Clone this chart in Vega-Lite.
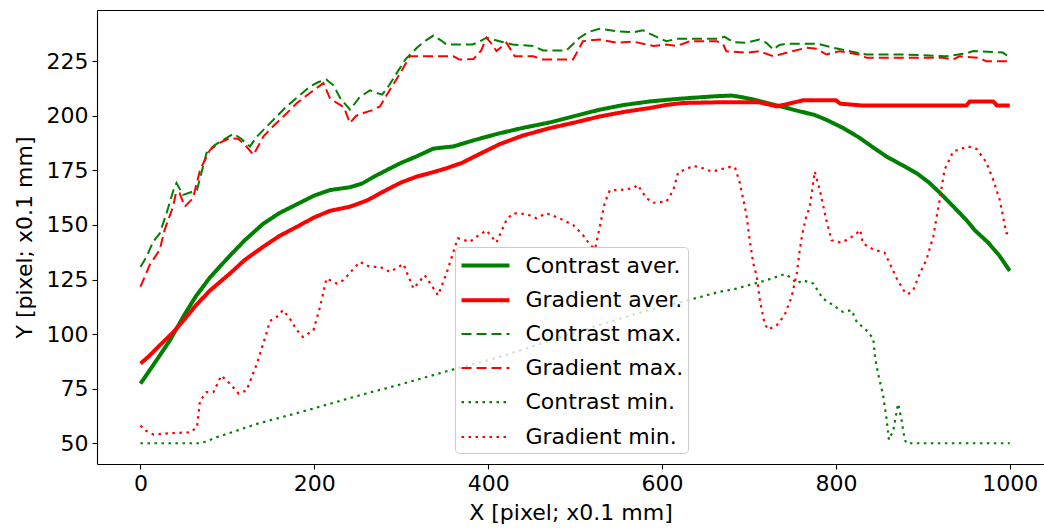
{
  "$schema": "https://vega.github.io/schema/vega-lite/v6.json",
  "width": 947,
  "height": 454,
  "autosize": "none",
  "padding": {"left": 97, "top": 10, "right": 0, "bottom": 64},
  "config": {
    "view": {"stroke": null},
    "font": "DejaVu Sans",
    "axis": {"grid": false, "domainColor": "#000", "tickColor": "#000", "labelColor": "#000", "titleColor": "#000", "labelFont": "DejaVu Sans", "titleFont": "DejaVu Sans", "labelFontSize": 22, "titleFontSize": 22, "titleFontWeight": "normal", "tickSize": 5, "labelPadding": 4, "domainWidth": 1.1, "tickWidth": 1.1},
    "legend": {"orient": "none", "legendX": 358, "legendY": 237, "title": null, "fillColor": "rgba(255,255,255,0.8)", "strokeColor": "#cccccc", "cornerRadius": 4, "padding": 4.5, "labelFont": "DejaVu Sans", "labelFontSize": 22, "labelColor": "#000", "symbolType": "M-1,0H3", "symbolSize": 576, "labelOffset": 38, "rowPadding": 9.8}
  },
  "data": {"values": [
    {"s":"Contrast aver.","x":0,"y":77.3},{"s":"Contrast aver.","x":15,"y":86},{"s":"Contrast aver.","x":34,"y":97.2},{"s":"Contrast aver.","x":50,"y":108.5},{"s":"Contrast aver.","x":64,"y":117.5},{"s":"Contrast aver.","x":80,"y":126},{"s":"Contrast aver.","x":103,"y":136},{"s":"Contrast aver.","x":120,"y":143},{"s":"Contrast aver.","x":141,"y":150.5},{"s":"Contrast aver.","x":160,"y":155.5},{"s":"Contrast aver.","x":180,"y":159.5},{"s":"Contrast aver.","x":200,"y":163.5},{"s":"Contrast aver.","x":218,"y":166},{"s":"Contrast aver.","x":241,"y":167.3},{"s":"Contrast aver.","x":255,"y":169},{"s":"Contrast aver.","x":268,"y":172},{"s":"Contrast aver.","x":285,"y":175.5},{"s":"Contrast aver.","x":300,"y":178.5},{"s":"Contrast aver.","x":318,"y":181.5},{"s":"Contrast aver.","x":337,"y":185},{"s":"Contrast aver.","x":360,"y":186},{"s":"Contrast aver.","x":385,"y":189},{"s":"Contrast aver.","x":413,"y":192},{"s":"Contrast aver.","x":440,"y":194.5},{"s":"Contrast aver.","x":471,"y":197},{"s":"Contrast aver.","x":500,"y":200},{"s":"Contrast aver.","x":528,"y":202.8},{"s":"Contrast aver.","x":556,"y":205},{"s":"Contrast aver.","x":586,"y":206.6},{"s":"Contrast aver.","x":610,"y":207.5},{"s":"Contrast aver.","x":632,"y":208.2},{"s":"Contrast aver.","x":662,"y":209},{"s":"Contrast aver.","x":680,"y":209.3},{"s":"Contrast aver.","x":690,"y":208.7},{"s":"Contrast aver.","x":705,"y":207.5},{"s":"Contrast aver.","x":720,"y":206},{"s":"Contrast aver.","x":740,"y":204},{"s":"Contrast aver.","x":759,"y":202},{"s":"Contrast aver.","x":775,"y":200.5},{"s":"Contrast aver.","x":789,"y":198.2},{"s":"Contrast aver.","x":808,"y":194.5},{"s":"Contrast aver.","x":827,"y":190},{"s":"Contrast aver.","x":843,"y":185.5},{"s":"Contrast aver.","x":858,"y":181.4},{"s":"Contrast aver.","x":876,"y":177.5},{"s":"Contrast aver.","x":893,"y":173.7},{"s":"Contrast aver.","x":907,"y":169.5},{"s":"Contrast aver.","x":920,"y":164.6},{"s":"Contrast aver.","x":935,"y":158.5},{"s":"Contrast aver.","x":950,"y":152.3},{"s":"Contrast aver.","x":960,"y":147.5},{"s":"Contrast aver.","x":975,"y":142},{"s":"Contrast aver.","x":988,"y":136},{"s":"Contrast aver.","x":1000,"y":129},

    {"s":"Gradient aver.","x":0,"y":86.5},{"s":"Gradient aver.","x":10,"y":90},{"s":"Gradient aver.","x":20,"y":94},{"s":"Gradient aver.","x":37.5,"y":100.8},{"s":"Gradient aver.","x":50,"y":106.5},{"s":"Gradient aver.","x":64,"y":113.3},{"s":"Gradient aver.","x":80,"y":120},{"s":"Gradient aver.","x":103,"y":127.8},{"s":"Gradient aver.","x":120,"y":134},{"s":"Gradient aver.","x":141,"y":140},{"s":"Gradient aver.","x":160,"y":145},{"s":"Gradient aver.","x":180,"y":149.2},{"s":"Gradient aver.","x":200,"y":153.5},{"s":"Gradient aver.","x":218,"y":156.5},{"s":"Gradient aver.","x":240,"y":158.3},{"s":"Gradient aver.","x":249,"y":159.5},{"s":"Gradient aver.","x":262,"y":161.5},{"s":"Gradient aver.","x":276,"y":164.6},{"s":"Gradient aver.","x":290,"y":167.5},{"s":"Gradient aver.","x":300,"y":169.5},{"s":"Gradient aver.","x":318,"y":172.2},{"s":"Gradient aver.","x":335,"y":174},{"s":"Gradient aver.","x":352,"y":176},{"s":"Gradient aver.","x":370,"y":178.5},{"s":"Gradient aver.","x":390,"y":182.5},{"s":"Gradient aver.","x":413,"y":187},{"s":"Gradient aver.","x":440,"y":191},{"s":"Gradient aver.","x":471,"y":194.4},{"s":"Gradient aver.","x":500,"y":197},{"s":"Gradient aver.","x":528,"y":199.7},{"s":"Gradient aver.","x":556,"y":201.8},{"s":"Gradient aver.","x":586,"y":203.6},{"s":"Gradient aver.","x":605,"y":205},{"s":"Gradient aver.","x":624,"y":205.9},{"s":"Gradient aver.","x":662,"y":206.2},{"s":"Gradient aver.","x":712,"y":206.2},{"s":"Gradient aver.","x":725,"y":205},{"s":"Gradient aver.","x":732,"y":204.3},{"s":"Gradient aver.","x":745,"y":205.5},{"s":"Gradient aver.","x":762,"y":207.1},{"s":"Gradient aver.","x":800,"y":207.1},{"s":"Gradient aver.","x":805,"y":205.6},{"s":"Gradient aver.","x":831,"y":204.7},{"s":"Gradient aver.","x":950,"y":204.7},{"s":"Gradient aver.","x":954,"y":206.6},{"s":"Gradient aver.","x":981,"y":206.6},{"s":"Gradient aver.","x":985,"y":204.8},{"s":"Gradient aver.","x":1000,"y":204.8},

    {"s":"Contrast max.","x":0,"y":130.8},{"s":"Contrast max.","x":7,"y":135.4},{"s":"Contrast max.","x":14.5,"y":142.3},{"s":"Contrast max.","x":22,"y":146},{"s":"Contrast max.","x":30,"y":155.4},{"s":"Contrast max.","x":38,"y":166},{"s":"Contrast max.","x":41.4,"y":169.2},{"s":"Contrast max.","x":49,"y":163.8},{"s":"Contrast max.","x":58,"y":165},{"s":"Contrast max.","x":65,"y":166},{"s":"Contrast max.","x":76,"y":183},{"s":"Contrast max.","x":85,"y":186.5},{"s":"Contrast max.","x":95.5,"y":189},{"s":"Contrast max.","x":107,"y":191.8},{"s":"Contrast max.","x":116,"y":189.5},{"s":"Contrast max.","x":126,"y":186},{"s":"Contrast max.","x":134,"y":190.5},{"s":"Contrast max.","x":141.5,"y":193.6},{"s":"Contrast max.","x":155,"y":199},{"s":"Contrast max.","x":168,"y":204.3},{"s":"Contrast max.","x":182,"y":209},{"s":"Contrast max.","x":195,"y":213.5},{"s":"Contrast max.","x":205,"y":215.5},{"s":"Contrast max.","x":214,"y":216.6},{"s":"Contrast max.","x":222,"y":214},{"s":"Contrast max.","x":230,"y":208},{"s":"Contrast max.","x":241,"y":202.8},{"s":"Contrast max.","x":252,"y":208.5},{"s":"Contrast max.","x":264,"y":211.7},{"s":"Contrast max.","x":272,"y":210.5},{"s":"Contrast max.","x":278,"y":209.7},{"s":"Contrast max.","x":286,"y":214},{"s":"Contrast max.","x":295,"y":219.7},{"s":"Contrast max.","x":305,"y":226},{"s":"Contrast max.","x":318,"y":231.2},{"s":"Contrast max.","x":328,"y":234.5},{"s":"Contrast max.","x":337,"y":236.8},{"s":"Contrast max.","x":346,"y":234.5},{"s":"Contrast max.","x":352,"y":232.7},{"s":"Contrast max.","x":382,"y":232.7},{"s":"Contrast max.","x":390,"y":234},{"s":"Contrast max.","x":398,"y":235.8},{"s":"Contrast max.","x":413,"y":234.2},{"s":"Contrast max.","x":428,"y":232.7},{"s":"Contrast max.","x":452,"y":232},{"s":"Contrast max.","x":463,"y":230},{"s":"Contrast max.","x":490,"y":230},{"s":"Contrast max.","x":498,"y":233},{"s":"Contrast max.","x":505,"y":235.8},{"s":"Contrast max.","x":516,"y":238.5},{"s":"Contrast max.","x":528,"y":239.9},{"s":"Contrast max.","x":548,"y":238.8},{"s":"Contrast max.","x":567,"y":238.3},{"s":"Contrast max.","x":578,"y":239.2},{"s":"Contrast max.","x":592,"y":236.5},{"s":"Contrast max.","x":605,"y":234.2},{"s":"Contrast max.","x":617,"y":235.3},{"s":"Contrast max.","x":663,"y":235.3},{"s":"Contrast max.","x":672,"y":236.2},{"s":"Contrast max.","x":682,"y":233.7},{"s":"Contrast max.","x":697,"y":233.5},{"s":"Contrast max.","x":712,"y":235},{"s":"Contrast max.","x":720,"y":233.5},{"s":"Contrast max.","x":728,"y":230.4},{"s":"Contrast max.","x":735,"y":232.5},{"s":"Contrast max.","x":743,"y":233},{"s":"Contrast max.","x":778,"y":233.1},{"s":"Contrast max.","x":797,"y":231.2},{"s":"Contrast max.","x":816,"y":229.6},{"s":"Contrast max.","x":835,"y":228.1},{"s":"Contrast max.","x":874,"y":228.1},{"s":"Contrast max.","x":900,"y":227.8},{"s":"Contrast max.","x":927,"y":227.3},{"s":"Contrast max.","x":950,"y":228.6},{"s":"Contrast max.","x":958,"y":229.7},{"s":"Contrast max.","x":981,"y":229.2},{"s":"Contrast max.","x":992,"y":229},{"s":"Contrast max.","x":998,"y":227.3},

    {"s":"Gradient max.","x":0,"y":121.7},{"s":"Gradient max.","x":11,"y":132},{"s":"Gradient max.","x":22,"y":138.5},{"s":"Gradient max.","x":28,"y":148},{"s":"Gradient max.","x":37.5,"y":158.4},{"s":"Gradient max.","x":41,"y":165},{"s":"Gradient max.","x":45,"y":164.6},{"s":"Gradient max.","x":51,"y":158.4},{"s":"Gradient max.","x":60.5,"y":162.3},{"s":"Gradient max.","x":68.6,"y":175.3},{"s":"Gradient max.","x":80,"y":184.4},{"s":"Gradient max.","x":90,"y":187.5},{"s":"Gradient max.","x":103,"y":189.8},{"s":"Gradient max.","x":112,"y":189.5},{"s":"Gradient max.","x":118.5,"y":187.5},{"s":"Gradient max.","x":130,"y":182.2},{"s":"Gradient max.","x":141.5,"y":190.6},{"s":"Gradient max.","x":152,"y":195},{"s":"Gradient max.","x":164.5,"y":199.7},{"s":"Gradient max.","x":180,"y":205.9},{"s":"Gradient max.","x":195,"y":210.5},{"s":"Gradient max.","x":210.5,"y":215},{"s":"Gradient max.","x":218,"y":208},{"s":"Gradient max.","x":226,"y":205.9},{"s":"Gradient max.","x":234,"y":204},{"s":"Gradient max.","x":241,"y":196.7},{"s":"Gradient max.","x":248,"y":200},{"s":"Gradient max.","x":256.5,"y":201.3},{"s":"Gradient max.","x":266,"y":202.5},{"s":"Gradient max.","x":275.6,"y":204.3},{"s":"Gradient max.","x":287,"y":212},{"s":"Gradient max.","x":298,"y":219},{"s":"Gradient max.","x":310,"y":227.3},{"s":"Gradient max.","x":337,"y":227.3},{"s":"Gradient max.","x":360,"y":227.3},{"s":"Gradient max.","x":367,"y":225.8},{"s":"Gradient max.","x":383,"y":226},{"s":"Gradient max.","x":392,"y":230},{"s":"Gradient max.","x":398,"y":235.8},{"s":"Gradient max.","x":404,"y":233},{"s":"Gradient max.","x":409.5,"y":229.7},{"s":"Gradient max.","x":421,"y":233.5},{"s":"Gradient max.","x":430.6,"y":227.3},{"s":"Gradient max.","x":452,"y":227.3},{"s":"Gradient max.","x":463,"y":225.8},{"s":"Gradient max.","x":497.6,"y":225.8},{"s":"Gradient max.","x":509,"y":234.2},{"s":"Gradient max.","x":528,"y":235},{"s":"Gradient max.","x":548,"y":233.5},{"s":"Gradient max.","x":567,"y":234},{"s":"Gradient max.","x":590,"y":232},{"s":"Gradient max.","x":605,"y":232.7},{"s":"Gradient max.","x":617,"y":232},{"s":"Gradient max.","x":632,"y":234.2},{"s":"Gradient max.","x":663,"y":234.2},{"s":"Gradient max.","x":670,"y":233},{"s":"Gradient max.","x":674,"y":229.6},{"s":"Gradient max.","x":697,"y":228.9},{"s":"Gradient max.","x":712,"y":229.6},{"s":"Gradient max.","x":728,"y":227.3},{"s":"Gradient max.","x":743,"y":228.9},{"s":"Gradient max.","x":766,"y":231.2},{"s":"Gradient max.","x":778,"y":230.7},{"s":"Gradient max.","x":789,"y":228.1},{"s":"Gradient max.","x":804,"y":229.6},{"s":"Gradient max.","x":827,"y":228.1},{"s":"Gradient max.","x":835,"y":226.6},{"s":"Gradient max.","x":873,"y":226.6},{"s":"Gradient max.","x":923,"y":226.6},{"s":"Gradient max.","x":935,"y":225.8},{"s":"Gradient max.","x":942,"y":227.3},{"s":"Gradient max.","x":965,"y":226.6},{"s":"Gradient max.","x":973,"y":225},{"s":"Gradient max.","x":998,"y":225},

    {"s":"Contrast min.","x":0,"y":50},{"s":"Contrast min.","x":70,"y":50},{"s":"Contrast min.","x":88,"y":52.8},{"s":"Contrast min.","x":111,"y":55.8},{"s":"Contrast min.","x":134,"y":58.9},{"s":"Contrast min.","x":180,"y":63.8},{"s":"Contrast min.","x":218,"y":68.1},{"s":"Contrast min.","x":256,"y":72.4},{"s":"Contrast min.","x":295,"y":76.5},{"s":"Contrast min.","x":356,"y":83.4},{"s":"Contrast min.","x":413,"y":89.5},{"s":"Contrast min.","x":490,"y":99.5},{"s":"Contrast min.","x":567,"y":109},{"s":"Contrast min.","x":644,"y":117},{"s":"Contrast min.","x":666,"y":119.4},{"s":"Contrast min.","x":682,"y":120.5},{"s":"Contrast min.","x":720,"y":124.7},{"s":"Contrast min.","x":741,"y":127.5},{"s":"Contrast min.","x":748,"y":126},{"s":"Contrast min.","x":755,"y":123.2},{"s":"Contrast min.","x":762,"y":124.7},{"s":"Contrast min.","x":774,"y":123.2},{"s":"Contrast min.","x":785,"y":116.3},{"s":"Contrast min.","x":797,"y":113.2},{"s":"Contrast min.","x":808,"y":110.2},{"s":"Contrast min.","x":818,"y":111},{"s":"Contrast min.","x":824,"y":105.6},{"s":"Contrast min.","x":835,"y":101.8},{"s":"Contrast min.","x":843,"y":98},{"s":"Contrast min.","x":845,"y":89.5},{"s":"Contrast min.","x":848.5,"y":81.9},{"s":"Contrast min.","x":854,"y":72.7},{"s":"Contrast min.","x":858,"y":62},{"s":"Contrast min.","x":861,"y":51.6},{"s":"Contrast min.","x":866,"y":55.8},{"s":"Contrast min.","x":871.5,"y":68.1},{"s":"Contrast min.","x":875,"y":62},{"s":"Contrast min.","x":879,"y":52},{"s":"Contrast min.","x":881,"y":50},{"s":"Contrast min.","x":1000,"y":50},

    {"s":"Gradient min.","x":0,"y":58.1},{"s":"Gradient min.","x":5,"y":56},{"s":"Gradient min.","x":15,"y":54},{"s":"Gradient min.","x":34,"y":54.6},{"s":"Gradient min.","x":57,"y":55},{"s":"Gradient min.","x":65,"y":57.3},{"s":"Gradient min.","x":68.5,"y":69.5},{"s":"Gradient min.","x":76,"y":73.4},{"s":"Gradient min.","x":84,"y":73.4},{"s":"Gradient min.","x":93,"y":81},{"s":"Gradient min.","x":103,"y":77.3},{"s":"Gradient min.","x":113,"y":72.7},{"s":"Gradient min.","x":122,"y":74.2},{"s":"Gradient min.","x":134,"y":86.5},{"s":"Gradient min.","x":145,"y":100.5},{"s":"Gradient min.","x":149,"y":106},{"s":"Gradient min.","x":157,"y":108},{"s":"Gradient min.","x":164,"y":111},{"s":"Gradient min.","x":172,"y":107},{"s":"Gradient min.","x":180,"y":101.8},{"s":"Gradient min.","x":187,"y":98.7},{"s":"Gradient min.","x":199,"y":101.8},{"s":"Gradient min.","x":206.6,"y":112.5},{"s":"Gradient min.","x":214,"y":125.5},{"s":"Gradient min.","x":225.8,"y":123.2},{"s":"Gradient min.","x":233.5,"y":124.7},{"s":"Gradient min.","x":243,"y":129},{"s":"Gradient min.","x":252.6,"y":133.1},{"s":"Gradient min.","x":264,"y":130.8},{"s":"Gradient min.","x":275.6,"y":130.8},{"s":"Gradient min.","x":287,"y":128.5},{"s":"Gradient min.","x":302.5,"y":132.1},{"s":"Gradient min.","x":314,"y":120.9},{"s":"Gradient min.","x":327,"y":127},{"s":"Gradient min.","x":342.4,"y":117.8},{"s":"Gradient min.","x":352,"y":127.8},{"s":"Gradient min.","x":365,"y":143.9},{"s":"Gradient min.","x":379,"y":142.3},{"s":"Gradient min.","x":388,"y":145},{"s":"Gradient min.","x":398,"y":147.5},{"s":"Gradient min.","x":409.5,"y":142},{"s":"Gradient min.","x":421,"y":152.3},{"s":"Gradient min.","x":428.6,"y":155.4},{"s":"Gradient min.","x":444,"y":155},{"s":"Gradient min.","x":455.5,"y":153.1},{"s":"Gradient min.","x":467,"y":155.4},{"s":"Gradient min.","x":482,"y":153.1},{"s":"Gradient min.","x":497.6,"y":150},{"s":"Gradient min.","x":509,"y":145.4},{"s":"Gradient min.","x":517,"y":141},{"s":"Gradient min.","x":523,"y":139},{"s":"Gradient min.","x":528.4,"y":149.2},{"s":"Gradient min.","x":534,"y":160},{"s":"Gradient min.","x":540,"y":166},{"s":"Gradient min.","x":551,"y":166},{"s":"Gradient min.","x":567,"y":166.8},{"s":"Gradient min.","x":572,"y":168.4},{"s":"Gradient min.","x":582,"y":162.3},{"s":"Gradient min.","x":590,"y":160.2},{"s":"Gradient min.","x":605,"y":160.7},{"s":"Gradient min.","x":613,"y":166},{"s":"Gradient min.","x":618.5,"y":174},{"s":"Gradient min.","x":636,"y":177.1},{"s":"Gradient min.","x":647,"y":176},{"s":"Gradient min.","x":657,"y":174.5},{"s":"Gradient min.","x":663,"y":175},{"s":"Gradient min.","x":678,"y":176.6},{"s":"Gradient min.","x":684,"y":176.3},{"s":"Gradient min.","x":689.4,"y":169.4},{"s":"Gradient min.","x":697,"y":154.9},{"s":"Gradient min.","x":701,"y":142.6},{"s":"Gradient min.","x":705,"y":132.4},{"s":"Gradient min.","x":709,"y":126.3},{"s":"Gradient min.","x":712.5,"y":115.5},{"s":"Gradient min.","x":718,"y":104.8},{"s":"Gradient min.","x":722,"y":102.1},{"s":"Gradient min.","x":732,"y":104.1},{"s":"Gradient min.","x":741,"y":108.7},{"s":"Gradient min.","x":749,"y":117},{"s":"Gradient min.","x":755,"y":127.8},{"s":"Gradient min.","x":758.4,"y":138.5},{"s":"Gradient min.","x":761.5,"y":146.2},{"s":"Gradient min.","x":766,"y":154},{"s":"Gradient min.","x":770,"y":158.4},{"s":"Gradient min.","x":775.7,"y":174.5},{"s":"Gradient min.","x":781.5,"y":166},{"s":"Gradient min.","x":789,"y":152.3},{"s":"Gradient min.","x":795,"y":143},{"s":"Gradient min.","x":806,"y":141.9},{"s":"Gradient min.","x":816,"y":143.9},{"s":"Gradient min.","x":824,"y":146.2},{"s":"Gradient min.","x":828,"y":147.7},{"s":"Gradient min.","x":831,"y":141.6},{"s":"Gradient min.","x":843,"y":138.8},{"s":"Gradient min.","x":856,"y":137.3},{"s":"Gradient min.","x":862,"y":132.4},{"s":"Gradient min.","x":870,"y":125.5},{"s":"Gradient min.","x":879,"y":119.4},{"s":"Gradient min.","x":883,"y":118.3},{"s":"Gradient min.","x":889,"y":120.1},{"s":"Gradient min.","x":896.5,"y":127.8},{"s":"Gradient min.","x":904,"y":133.9},{"s":"Gradient min.","x":912,"y":144.6},{"s":"Gradient min.","x":920,"y":163},{"s":"Gradient min.","x":925,"y":175.3},{"s":"Gradient min.","x":935,"y":183.7},{"s":"Gradient min.","x":952,"y":186},{"s":"Gradient min.","x":962,"y":184.8},{"s":"Gradient min.","x":973,"y":178.7},{"s":"Gradient min.","x":981,"y":170.7},{"s":"Gradient min.","x":988.5,"y":161.5},{"s":"Gradient min.","x":996,"y":146.3},{"s":"Gradient min.","x":1000,"y":146}
  ]},
  "layer": [
    {
      "mark": {"type": "line", "clip": true},
      "encoding": {
        "x": {"field": "x", "type": "quantitative", "scale": {"domain": [-50, 1039.4], "nice": false, "zero": false}, "axis": {"values": [0, 200, 400, 600, 800, 1000], "format": "d", "title": "X [pixel; x0.1 mm]", "titlePadding": 8}},
        "y": {"field": "y", "type": "quantitative", "scale": {"domain": [40.5, 248.5], "nice": false, "zero": false}, "axis": {"values": [50, 75, 100, 125, 150, 175, 200, 225], "title": "Y [pixel; x0.1 mm]", "titlePadding": 10}},
        "color": {"field": "s", "type": "nominal", "scale": {"domain": ["Contrast aver.", "Gradient aver.", "Contrast max.", "Gradient max.", "Contrast min.", "Gradient min."], "range": ["#008000", "#ff0000", "#008000", "#ff0000", "#008000", "#ff0000"]}},
        "strokeDash": {"field": "s", "type": "nominal", "scale": {"domain": ["Contrast aver.", "Gradient aver.", "Contrast max.", "Gradient max.", "Contrast min.", "Gradient min."], "range": [[1, 0], [1, 0], [10, 5], [10, 5], [2.5, 4.5], [2.5, 4.5]]}},
        "strokeWidth": {"field": "s", "type": "nominal", "scale": {"type": "ordinal", "domain": ["Contrast aver.", "Gradient aver.", "Contrast max.", "Gradient max.", "Contrast min.", "Gradient min."], "range": [4, 4, 2, 2, 2.2, 2.2]}}
      }
    },
    {
      "mark": {"type": "line", "opacity": 0},
      "encoding": {
        "x": {"field": "x", "type": "quantitative", "axis": {"orient": "top", "labels": false, "ticks": false, "title": null}}
      }
    }
  ],
  "resolve": {"axis": {"x": "independent"}}
}
